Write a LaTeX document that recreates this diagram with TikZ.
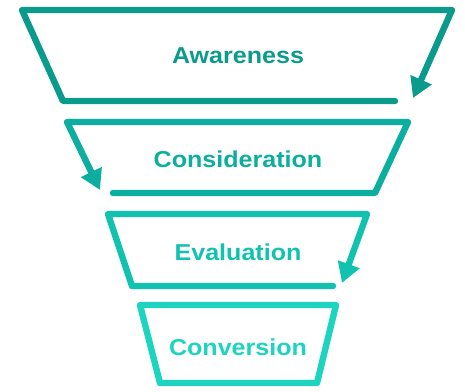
\documentclass[tikz,border=0pt]{standalone}
\usepackage{fontspec}
\setmainfont{Liberation Sans}
\usetikzlibrary{arrows.meta}
\definecolor{cA}{HTML}{0A9B8C}
\definecolor{cB}{HTML}{0BAE9F}
\definecolor{cC}{HTML}{12C2B0}
\definecolor{cD}{HTML}{1CD4C0}
\newcommand{\widetext}[1]{\scalebox{1.09}[1]{#1}}
\tikzset{
  funnel/.style={line width=6.4pt, line join=round, line cap=round},
  tip/.style={-{Triangle[length=20pt,width=22pt]}},
  lbl/.style={font=\fontsize{23}{26}\selectfont\bfseries, inner sep=0pt, anchor=base}
}
\begin{document}
\begin{tikzpicture}[x=1pt,y=-1pt]
\useasboundingbox (0,0) rectangle (465,391);
% Awareness
\draw[funnel, cA, tip] (395,101) -- (63,101) -- (22,10) -- (452,10) -- (413,98);
\node[lbl, text=cA] (aw) at (238,63) {\widetext{Awareness}};
% Consideration
\draw[funnel, cB, tip] (113,193) -- (375,193) -- (408,122) -- (67,122) -- (100,190);
\node[lbl, text=cB] (co) at (238,167) {\widetext{Consideration}};
% Evaluation
\draw[funnel, cC, tip] (333,286) -- (132,286) -- (108,214) -- (367,214) -- (342,283);
\node[lbl, text=cC] (ev) at (238,260) {\widetext{Evaluation}};
% Conversion
\draw[funnel, cD] (140,305) -- (336,305) -- (317,383) -- (160,383) -- cycle;
\node[lbl, text=cD] (cv) at (238,355) {\widetext{Conversion}};
\end{tikzpicture}
\end{document}
